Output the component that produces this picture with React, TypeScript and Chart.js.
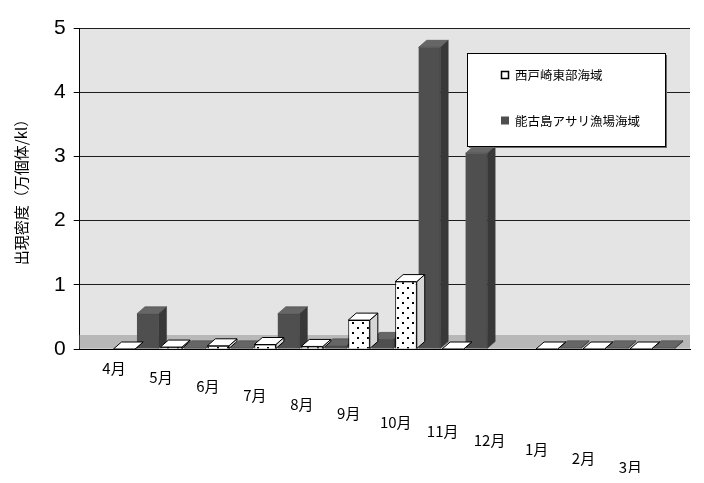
import React, { useEffect, useRef } from 'react';
import { Chart, registerables } from 'chart.js';

Chart.register(...registerables);

// ---- data ----
const months = ['4月', '5月', '6月', '7月', '8月', '9月', '10月', '11月', '12月', '1月', '2月', '3月'];
const seriesLabels = ['西戸崎東部海域', '能古島アサリ漁場海域'];
const nishitozakiValues: (number | null)[] = [0, 0.03, 0.05, 0.07, 0.04, 0.45, 1.05, 0, null, 0, 0, 0];
const nokonoshimaValues: (number | null)[] = [0.55, 0.02, 0.02, 0.55, 0.05, 0.15, 4.7, 3.05, null, 0.02, 0.02, 0.02];
const yTickValues = [0, 1, 2, 3, 4, 5];
const yAxisTitle = '出現密度（万個体/kl）';

// ---- styles ----
const NUM_FONT = "'Liberation Sans', 'Noto Sans CJK JP', sans-serif";
const JP_FONT = "'Noto Sans CJK JP', 'Noto Sans', sans-serif";
const DX = 8;
const DY = 7;

function makeDotPattern(): CanvasPattern | string {
  const c = document.createElement('canvas');
  c.width = 10;
  c.height = 10;
  const g = c.getContext('2d');
  if (!g) return '#ffffff';
  g.fillStyle = '#ffffff';
  g.fillRect(0, 0, 10, 10);
  g.fillStyle = '#000000';
  g.fillRect(2, 2, 2, 2);
  g.fillRect(7, 7, 2, 2);
  return g.createPattern(c, 'repeat') || '#ffffff';
}

const faceStyles = [
  { top: '#ffffff', side: '#d6d6d6', stroke: '#000000', lw: 1 },
  { top: '#666666', side: '#383838', stroke: '#3a3a3a', lw: 0.5 },
];

const depthPlugin = {
  id: 'depth3d',
  beforeDraw(chart: any) {
    const { ctx, chartArea: a } = chart;
    ctx.save();
    ctx.fillStyle = '#e4e4e4';
    ctx.fillRect(a.left, a.top, a.right - a.left, a.bottom - a.top);
    ctx.restore();
  },
  beforeDatasetsDraw(chart: any) {
    const { ctx, chartArea: a, scales } = chart;
    const y0 = scales.y.getPixelForValue(0);
    ctx.save();
    ctx.fillStyle = '#b8b8b8';
    ctx.fillRect(a.left, y0 - 2 * DY, a.right - a.left, 2 * DY - 0.5);
    ctx.restore();
  },
  afterDatasetDraw(chart: any, args: any) {
    const { ctx } = chart;
    const meta = args.meta;
    const st = faceStyles[args.index];
    const values = chart.data.datasets[args.index].data;
    meta.data.forEach((el: any, i: number) => {
      const raw = values[i];
      if (raw == null || raw.y == null) return;
      const { x, y, base, width } = el.getProps(['x', 'y', 'base', 'width'], true);
      const l = x - width / 2;
      const r = x + width / 2;
      ctx.save();
      ctx.lineWidth = st.lw;
      ctx.strokeStyle = st.stroke;
      ctx.lineJoin = 'round';
      // side face
      ctx.beginPath();
      ctx.moveTo(r, y);
      ctx.lineTo(r + DX, y - DY);
      ctx.lineTo(r + DX, base - DY);
      ctx.lineTo(r, base);
      ctx.closePath();
      ctx.fillStyle = st.side;
      ctx.fill();
      ctx.stroke();
      // top face
      ctx.beginPath();
      ctx.moveTo(l, y);
      ctx.lineTo(r, y);
      ctx.lineTo(r + DX, y - DY);
      ctx.lineTo(l + DX, y - DY);
      ctx.closePath();
      ctx.fillStyle = st.top;
      ctx.fill();
      ctx.stroke();
      ctx.restore();
    });
  },
  afterDraw(chart: any) {
    const { ctx } = chart;
    const bx = 467;
    const by = 53;
    const bw = 198;
    const bh = 93;
    ctx.save();
    ctx.fillStyle = '#6a6a6a';
    ctx.fillRect(bx + 2, by + 2, bw, bh);
    ctx.fillStyle = '#ffffff';
    ctx.fillRect(bx, by, bw, bh);
    ctx.strokeStyle = '#000000';
    ctx.lineWidth = 1;
    ctx.strokeRect(bx + 0.5, by + 0.5, bw, bh);
    ctx.font = `12.5px ${JP_FONT}`;
    ctx.textBaseline = 'middle';
    ctx.textAlign = 'left';
    chart.data.datasets.forEach((ds: any, i: number) => {
      const cy = by + 22 + i * 45.5;
      if (i === 0) {
        ctx.fillStyle = '#ffffff';
        ctx.fillRect(bx + 34, cy - 4, 8, 8);
        ctx.strokeStyle = '#000000';
        ctx.lineWidth = 1.5;
        ctx.strokeRect(bx + 34.5, cy - 3.5, 7, 7);
      } else {
        ctx.fillStyle = '#4f4f4f';
        ctx.fillRect(bx + 34, cy - 4, 8, 8);
      }
      ctx.fillStyle = '#000000';
      ctx.fillText(ds.label, bx + 48, cy + 0.5);
    });
    ctx.restore();
  },
};

export default function App() {
  const canvasRef = useRef<HTMLCanvasElement | null>(null);

  useEffect(() => {
    document.body.style.margin = '0';
    const canvas = canvasRef.current;
    if (!canvas) return;
    const pattern = makeDotPattern();

    const chart = new Chart(canvas, {
      type: 'bar',
      data: {
        datasets: [
          {
            label: seriesLabels[0],
            data: nishitozakiValues.map((v, i) => ({ x: i, y: v })) as any,
            backgroundColor: pattern as any,
            borderColor: '#000000',
            borderWidth: 1,
            categoryPercentage: 1.0,
            barPercentage: 0.92,
          },
          {
            label: seriesLabels[1],
            data: nokonoshimaValues.map((v, i) => ({ x: i, y: v })) as any,
            backgroundColor: '#4f4f4f',
            borderWidth: 0,
            categoryPercentage: 1.0,
            barPercentage: 0.92,
          },
        ],
      },
      options: {
        animation: false,
        responsive: false,
        maintainAspectRatio: false,
        layout: { padding: { left: 8, right: 14, top: 28, bottom: 10 } },
        plugins: {
          legend: { display: false },
          tooltip: { enabled: false },
        },
        scales: {
          x: {
            type: 'linear',
            min: -1.2,
            max: 11.8,
            offset: false,
            afterBuildTicks: (s: any) => {
              s.ticks = months.map((_, i) => ({ value: i }));
            },
            afterFit: (s: any) => {
              s.height = 124;
            },
            ticks: {
              autoSkip: false,
              maxRotation: 0,
              minRotation: 0,
              padding: 15,
              labelOffset: -22,
              color: '#000000',
              font: { family: JP_FONT, size: 15, lineHeight: 0.6 },
              callback: (v: any) => {
                const i = Math.round(Number(v));
                if (i < 0 || i >= months.length) return '';
                return [...Array(i).fill(''), months[i]];
              },
            },
            grid: { display: false, drawTicks: false },
            border: { display: true, color: '#000000' },
          } as any,
          y: {
            min: yTickValues[0],
            max: yTickValues[yTickValues.length - 1],
            afterBuildTicks: (s: any) => {
              s.ticks = yTickValues.map((v) => ({ value: v }));
            },
            ticks: {
              padding: 8,
              color: '#000000',
              font: { family: NUM_FONT, size: 21 },
            },
            grid: { color: '#1e1e1e', lineWidth: 1, tickLength: 6, tickColor: '#000000' },
            border: { color: '#000000' },
            title: {
              display: true,
              text: yAxisTitle,
              color: '#000000',
              font: { family: JP_FONT, size: 15 },
              padding: { top: 4, bottom: 16 },
            },
          },
        },
      },
      plugins: [depthPlugin],
    });

    return () => chart.destroy();
  }, []);

  return (
    <div style={{ position: 'fixed', left: 0, top: 0, width: 704, height: 483, background: '#ffffff' }}>
      <canvas ref={canvasRef} width={704} height={483} style={{ display: 'block' }} />
    </div>
  );
}
